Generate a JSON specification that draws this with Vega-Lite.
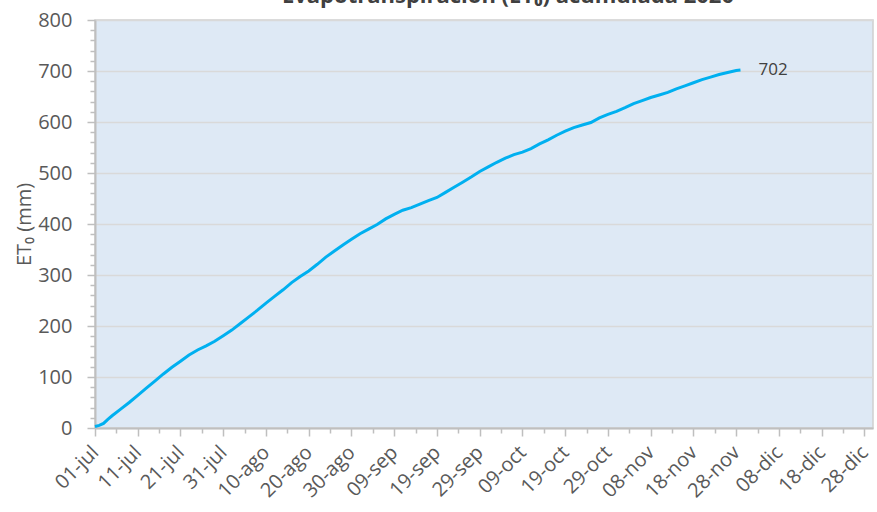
{
  "$schema": "https://vega.github.io/schema/vega-lite/v6.json",
  "width": 778,
  "height": 408,
  "autosize": "none",
  "padding": {"left": 95, "top": 20, "right": 4, "bottom": 84},
  "background": "white",
  "title": {"text": "Evapotranspiración (ET₀) acumulada 2020", "fontSize": 22, "font": "Open Sans", "fontWeight": "bold", "color": "#404040", "offset": 2, "dx": 24, "anchor": "middle"},
  "config": {
    "view": {"stroke": "#D0D0D0", "strokeWidth": 1.5, "fill": "#DEE9F5"},
    "locale": {"time": {"dateTime": "%A, %e de %B de %Y, %X", "date": "%d/%m/%Y", "time": "%H:%M:%S", "periods": ["AM", "PM"], "days": ["domingo", "lunes", "martes", "miércoles", "jueves", "viernes", "sábado"], "shortDays": ["dom", "lun", "mar", "mié", "jue", "vie", "sáb"], "months": ["enero", "febrero", "marzo", "abril", "mayo", "junio", "julio", "agosto", "septiembre", "octubre", "noviembre", "diciembre"], "shortMonths": ["ene", "feb", "mar", "abr", "may", "jun", "jul", "ago", "sep", "oct", "nov", "dic"]}}
  },
  "data": {"values": [
    {"fecha": "2020-07-01", "et0": 3}, {"fecha": "2020-07-02", "et0": 5}, {"fecha": "2020-07-03", "et0": 9}, {"fecha": "2020-07-04", "et0": 17}, {"fecha": "2020-07-05", "et0": 24},
    {"fecha": "2020-07-07", "et0": 37}, {"fecha": "2020-07-09", "et0": 50}, {"fecha": "2020-07-11", "et0": 64}, {"fecha": "2020-07-13", "et0": 78}, {"fecha": "2020-07-15", "et0": 92},
    {"fecha": "2020-07-17", "et0": 106}, {"fecha": "2020-07-19", "et0": 119}, {"fecha": "2020-07-21", "et0": 131}, {"fecha": "2020-07-23", "et0": 143}, {"fecha": "2020-07-25", "et0": 153},
    {"fecha": "2020-07-27", "et0": 161}, {"fecha": "2020-07-29", "et0": 170}, {"fecha": "2020-07-31", "et0": 181}, {"fecha": "2020-08-02", "et0": 192}, {"fecha": "2020-08-04", "et0": 205},
    {"fecha": "2020-08-06", "et0": 218}, {"fecha": "2020-08-08", "et0": 231}, {"fecha": "2020-08-10", "et0": 245}, {"fecha": "2020-08-12", "et0": 258}, {"fecha": "2020-08-14", "et0": 271},
    {"fecha": "2020-08-16", "et0": 285}, {"fecha": "2020-08-18", "et0": 297}, {"fecha": "2020-08-20", "et0": 308}, {"fecha": "2020-08-22", "et0": 321}, {"fecha": "2020-08-24", "et0": 335},
    {"fecha": "2020-08-26", "et0": 347}, {"fecha": "2020-08-28", "et0": 359}, {"fecha": "2020-08-30", "et0": 370}, {"fecha": "2020-09-01", "et0": 381}, {"fecha": "2020-09-03", "et0": 390},
    {"fecha": "2020-09-05", "et0": 399}, {"fecha": "2020-09-07", "et0": 410}, {"fecha": "2020-09-09", "et0": 419}, {"fecha": "2020-09-11", "et0": 427}, {"fecha": "2020-09-13", "et0": 432},
    {"fecha": "2020-09-15", "et0": 439}, {"fecha": "2020-09-17", "et0": 446}, {"fecha": "2020-09-19", "et0": 452}, {"fecha": "2020-09-21", "et0": 462}, {"fecha": "2020-09-23", "et0": 472},
    {"fecha": "2020-09-25", "et0": 482}, {"fecha": "2020-09-27", "et0": 492}, {"fecha": "2020-09-29", "et0": 503}, {"fecha": "2020-10-01", "et0": 512}, {"fecha": "2020-10-03", "et0": 521},
    {"fecha": "2020-10-05", "et0": 529}, {"fecha": "2020-10-07", "et0": 536}, {"fecha": "2020-10-09", "et0": 541}, {"fecha": "2020-10-11", "et0": 548}, {"fecha": "2020-10-13", "et0": 557},
    {"fecha": "2020-10-15", "et0": 565}, {"fecha": "2020-10-17", "et0": 574}, {"fecha": "2020-10-19", "et0": 582}, {"fecha": "2020-10-21", "et0": 589}, {"fecha": "2020-10-23", "et0": 594},
    {"fecha": "2020-10-25", "et0": 599}, {"fecha": "2020-10-27", "et0": 608}, {"fecha": "2020-10-29", "et0": 615}, {"fecha": "2020-10-31", "et0": 621}, {"fecha": "2020-11-02", "et0": 628},
    {"fecha": "2020-11-04", "et0": 636}, {"fecha": "2020-11-06", "et0": 642}, {"fecha": "2020-11-08", "et0": 648}, {"fecha": "2020-11-10", "et0": 653}, {"fecha": "2020-11-12", "et0": 658},
    {"fecha": "2020-11-14", "et0": 665}, {"fecha": "2020-11-16", "et0": 671}, {"fecha": "2020-11-18", "et0": 677}, {"fecha": "2020-11-20", "et0": 683}, {"fecha": "2020-11-22", "et0": 688},
    {"fecha": "2020-11-24", "et0": 693}, {"fecha": "2020-11-26", "et0": 697}, {"fecha": "2020-11-28", "et0": 701}, {"fecha": "2020-11-29", "et0": 702}
  ]},
  "encoding": {
    "x": {
      "field": "fecha", "type": "temporal",
      "scale": {"type": "utc", "domain": [{"year": 2020, "month": 7, "date": 1, "utc": true}, {"year": 2020, "month": 12, "date": 30, "utc": true}]},
      "axis": {
        "title": null, "format": "%d-%b", "grid": false,
        "values": [
          {"year": 2020, "month": 7, "date": 1, "utc": true}, {"year": 2020, "month": 7, "date": 6, "utc": true}, {"year": 2020, "month": 7, "date": 11, "utc": true}, {"year": 2020, "month": 7, "date": 16, "utc": true}, {"year": 2020, "month": 7, "date": 21, "utc": true}, {"year": 2020, "month": 7, "date": 26, "utc": true}, {"year": 2020, "month": 7, "date": 31, "utc": true},
          {"year": 2020, "month": 8, "date": 5, "utc": true}, {"year": 2020, "month": 8, "date": 10, "utc": true}, {"year": 2020, "month": 8, "date": 15, "utc": true}, {"year": 2020, "month": 8, "date": 20, "utc": true}, {"year": 2020, "month": 8, "date": 25, "utc": true}, {"year": 2020, "month": 8, "date": 30, "utc": true},
          {"year": 2020, "month": 9, "date": 4, "utc": true}, {"year": 2020, "month": 9, "date": 9, "utc": true}, {"year": 2020, "month": 9, "date": 14, "utc": true}, {"year": 2020, "month": 9, "date": 19, "utc": true}, {"year": 2020, "month": 9, "date": 24, "utc": true}, {"year": 2020, "month": 9, "date": 29, "utc": true},
          {"year": 2020, "month": 10, "date": 4, "utc": true}, {"year": 2020, "month": 10, "date": 9, "utc": true}, {"year": 2020, "month": 10, "date": 14, "utc": true}, {"year": 2020, "month": 10, "date": 19, "utc": true}, {"year": 2020, "month": 10, "date": 24, "utc": true}, {"year": 2020, "month": 10, "date": 29, "utc": true},
          {"year": 2020, "month": 11, "date": 3, "utc": true}, {"year": 2020, "month": 11, "date": 8, "utc": true}, {"year": 2020, "month": 11, "date": 13, "utc": true}, {"year": 2020, "month": 11, "date": 18, "utc": true}, {"year": 2020, "month": 11, "date": 23, "utc": true}, {"year": 2020, "month": 11, "date": 28, "utc": true},
          {"year": 2020, "month": 12, "date": 3, "utc": true}, {"year": 2020, "month": 12, "date": 8, "utc": true}, {"year": 2020, "month": 12, "date": 13, "utc": true}, {"year": 2020, "month": 12, "date": 18, "utc": true}, {"year": 2020, "month": 12, "date": 23, "utc": true}, {"year": 2020, "month": 12, "date": 28, "utc": true}
        ],
        "labelExpr": "(((datum.value - utc(2020,6,1)) / 86400000) % 10 < 1) ? datum.label : ''",
        "labelOverlap": false,
        "labelAngle": -45, "labelAlign": "right", "labelBaseline": "middle",
        "labelFont": "Open Sans", "labelFontSize": 20, "labelColor": "#595959", "labelPadding": 13,
        "domainColor": "#BFBFBF", "domainWidth": 2,
        "tickColor": "#BFBFBF", "tickWidth": 1.5,
        "tickSize": {"condition": {"test": "((datum.value - utc(2020,6,1)) / 86400000) % 10 < 1", "value": 8}, "value": 5}
      }
    },
    "y": {
      "field": "et0", "type": "quantitative",
      "scale": {"domain": [0, 800], "nice": false},
      "axis": {
        "title": "ET₀ (mm)", "titleFont": "Open Sans", "titleFontSize": 20, "titleFontWeight": "normal", "titleColor": "#595959", "titlePadding": 3,
        "values": [0, 20, 40, 60, 80, 100, 120, 140, 160, 180, 200, 220, 240, 260, 280, 300, 320, 340, 360, 380, 400, 420, 440, 460, 480, 500, 520, 540, 560, 580, 600, 620, 640, 660, 680, 700, 720, 740, 760, 780, 800],
        "labelExpr": "datum.value % 100 === 0 ? datum.label : ''",
        "labelFont": "Open Sans", "labelFontSize": 20, "labelColor": "#595959", "labelPadding": 15,
        "domainColor": "#BFBFBF", "domainWidth": 2,
        "tickColor": "#BFBFBF", "tickWidth": 1.5,
        "tickSize": {"condition": {"test": "datum.value % 100 === 0", "value": 8}, "value": 5},
        "grid": true, "gridColor": "#D9D9D9", "gridWidth": 1.5,
        "gridOpacity": {"condition": {"test": "datum.value % 100 !== 0", "value": 0}, "value": 1}
      }
    }
  },
  "layer": [
    {"mark": {"type": "line", "color": "#00B0F0", "strokeWidth": 3}},
    {
      "transform": [{"filter": "datum.et0 === 702"}],
      "mark": {"type": "text", "align": "left", "dx": 18, "baseline": "middle", "font": "Open Sans", "fontSize": 17, "color": "#404040"},
      "encoding": {"text": {"field": "et0", "type": "quantitative"}}
    }
  ]
}
